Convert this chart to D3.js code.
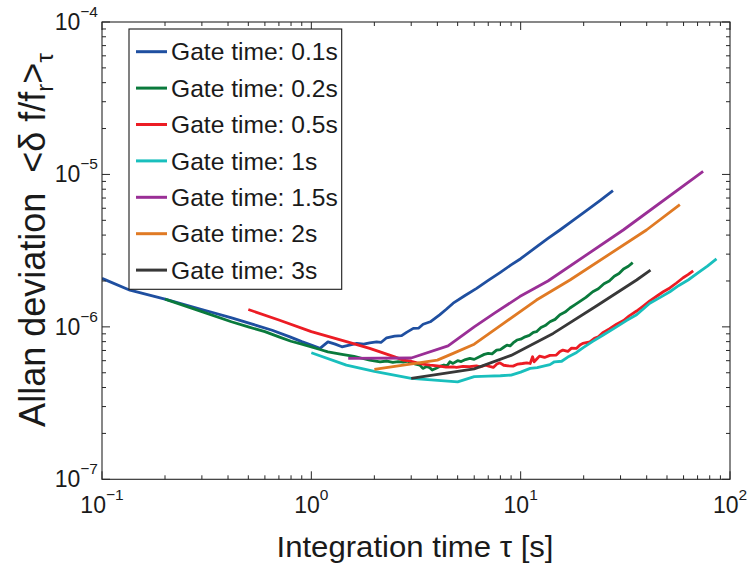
<!DOCTYPE html>
<html><head><meta charset="utf-8">
<script src="https://cdn.jsdelivr.net/npm/d3@7"></script>
<style>body{margin:0;background:#fff}svg{display:block}text{font-family:"Liberation Sans",Arial,Helvetica,sans-serif;fill:#1a1a1a}</style>
</head><body><svg id="c" width="751" height="570"></svg>
<script>
// ---- data (tau [s], Allan deviation) ----
const seriesNames = ["Gate time: 0.1s","Gate time: 0.2s","Gate time: 0.5s","Gate time: 1s","Gate time: 1.5s","Gate time: 2s","Gate time: 3s"];
const seriesColors = ["#1f4fa0","#0a7a3c","#ec1c24","#19bfbd","#9a2f96","#e07a24","#383838"];
const gate01 = [[0.1,2.08e-6],[0.136,1.74e-6],[0.2,1.52e-6],[0.3,1.3e-6],[0.42,1.14e-6],[0.55,1.02e-6],[0.65,9.5e-7],[0.79,8.6e-7],[0.9,8.0e-7],[1.0,7.6e-7],[1.1,7.23e-7],[1.2,7.98e-7],[1.3,7.7e-7],[1.4,7.4e-7],[1.52,7.6e-7],[1.65,7.79e-7],[1.78,7.7e-7],[1.9,7.86e-7],[2.05,7.98e-7],[2.15,7.9e-7],[2.29,8.48e-7],[2.5,8.7e-7],[2.7,8.75e-7],[2.85,9.2e-7],[3.07,9.77e-7],[3.25,9.8e-7],[3.42,1.04e-6],[3.7,1.08e-6],[4.1,1.2e-6],[4.4,1.3e-6],[4.76,1.43e-6],[5.4,1.6e-6],[6.16,1.79e-6],[7,2.02e-6],[8,2.28e-6],[9,2.55e-6],[10,2.8e-6],[11.9,3.35e-6],[13.5,3.8e-6],[15.4,4.32e-6],[18,5.05e-6],[21,5.9e-6],[24,6.75e-6],[27.6,7.82e-6]];
const gate02 = [[0.2,1.52e-6],[0.3,1.26e-6],[0.415,1.08e-6],[0.5,1.0e-6],[0.6,9.3e-7],[0.7,8.6e-7],[0.8,8.05e-7],[0.9,7.7e-7],[1.0,7.4e-7],[1.1,7.1e-7],[1.2,6.85e-7],[1.4,6.6e-7],[1.6,6.4e-7],[1.76,6.2e-7],[1.9,6.05e-7],[2.13,5.9e-7],[2.3,5.97e-7],[2.45,5.85e-7],[2.6,5.92e-7],[2.75,5.88e-7],[2.9,5.95e-7],[3.0,5.8e-7],[3.15,5.7e-7],[3.3,5.61e-7],[3.41,5.34e-7],[3.55,5.5e-7],[3.68,5.4e-7],[3.78,5.21e-7],[3.95,5.35e-7],[4.1,5.5e-7],[4.3,5.62e-7],[4.45,5.55e-7],[4.59,5.9e-7],[4.75,5.76e-7],[5.0,6.0e-7],[5.2,5.92e-7],[5.45,6.1e-7],[5.72,6.21e-7],[6.0,6.12e-7],[6.39,6.4e-7],[6.7,6.6e-7],[7.0,6.7e-7],[7.3,6.65e-7],[7.67,7.04e-7],[8.0,7.1e-7],[8.3,7.35e-7],[8.6,7.6e-7],[8.9,7.5e-7],[9.2,7.85e-7],[9.6,8.2e-7],[10.0,8.3e-7],[10.5,8.6e-7],[11.0,8.8e-7],[11.5,9.2e-7],[11.9,9.3e-7],[12.5,9.9e-7],[13.1,1.02e-6],[13.8,1.08e-6],[14.6,1.12e-6],[15.4,1.2e-6],[16.3,1.25e-6],[17.2,1.33e-6],[18.2,1.4e-6],[19.2,1.47e-6],[20.5,1.56e-6],[22.1,1.7e-6],[23.5,1.78e-6],[25,1.92e-6],[26.5,2.0e-6],[28,2.15e-6],[29.5,2.24e-6],[31,2.4e-6],[32.7,2.5e-6],[34.3,2.64e-6]];
const gate05 = [[0.5,1.3e-6],[0.7,1.11e-6],[1.0,9.3e-7],[1.5,7.95e-7],[1.9,7.23e-7],[2.13,6.86e-7],[2.5,6.35e-7],[2.75,6.05e-7],[3.0,5.95e-7],[3.2,5.8e-7],[3.41,5.7e-7],[3.69,5.61e-7],[4.0,5.55e-7],[4.4,5.45e-7],[4.75,5.47e-7],[4.94,5.42e-7],[5.3,5.5e-7],[5.7,5.48e-7],[6.15,5.55e-7],[6.4,5.47e-7],[6.8,5.6e-7],[7.1,5.5e-7],[7.4,5.42e-7],[7.7,5.7e-7],[7.96,5.81e-7],[8.3,5.6e-7],[8.7,5.55e-7],[9.2,5.53e-7],[9.7,5.7e-7],[10.2,5.75e-7],[10.7,5.81e-7],[11.1,5.75e-7],[11.4,6.37e-7],[11.6,5.9e-7],[12.0,6.2e-7],[12.3,6.43e-7],[13.0,6.3e-7],[13.8,6.5e-7],[14.8,6.53e-7],[15.4,6.9e-7],[15.9,7.04e-7],[16.8,6.9e-7],[17.5,7.25e-7],[18.5,7.23e-7],[19.2,7.6e-7],[19.8,7.79e-7],[21.4,7.98e-7],[22.5,8.4e-7],[23.5,8.6e-7],[24.8,9.2e-7],[26.5,9.7e-7],[28.7,1.04e-6],[31,1.1e-6],[33,1.18e-6],[35.8,1.27e-6],[38.5,1.37e-6],[41.4,1.48e-6],[45,1.6e-6],[48,1.7e-6],[51.6,1.8e-6],[55.5,1.94e-6],[59.7,2.1e-6],[63,2.2e-6],[66.7,2.33e-6]];
const gate1 = [[1.0,6.76e-7],[1.47,5.61e-7],[2.0,5.1e-7],[3.0,4.6e-7],[5.0,4.36e-7],[6.0,4.72e-7],[7.0,4.75e-7],[8.0,4.78e-7],[9.0,4.83e-7],[10.0,5.05e-7],[11.1,5.34e-7],[12.0,5.4e-7],[13.0,5.55e-7],[13.8,5.65e-7],[14.5,5.9e-7],[15.7,5.95e-7],[17,6.4e-7],[18.5,6.8e-7],[19.9,7.31e-7],[22,8.0e-7],[24.8,8.84e-7],[28.7,1.0e-6],[32,1.1e-6],[35.8,1.2e-6],[41.4,1.43e-6],[46,1.55e-6],[51.6,1.7e-6],[57,1.87e-6],[63.1,2.03e-6],[70,2.25e-6],[78,2.5e-6],[86.2,2.79e-6]];
const gate15 = [[1.5,6.21e-7],[3.0,6.25e-7],[4.5,7.5e-7],[6.0,1.0e-6],[7.5,1.23e-6],[9.9,1.58e-6],[13.5,2.0e-6],[30.9,4.32e-6],[74.4,1.048e-5]];
const gate2 = [[2,5.26e-7],[4,6.05e-7],[4.76,6.7e-7],[6,7.7e-7],[8.25,1.05e-6],[11.9,1.5e-6],[17.2,2.03e-6],[39.9,4.32e-6],[57.6,6.33e-6]];
const gate3 = [[3.0,4.59e-7],[6,5.3e-7],[9,6.5e-7],[14.3,9.06e-7],[23,1.37e-6],[35.8,2.03e-6],[41.7,2.36e-6]];
const allSeries = [gate01,gate02,gate05,gate1,gate15,gate2,gate3];
const xDecades = [-1,0,1,2];
const yDecades = [-7,-6,-5,-4];

// ---- layout ----
const L=102, R=730, T=22, B=479.3;
const svg = d3.select("#c");
const x = d3.scaleLog().domain([0.1,100]).range([L,R]);
const y = d3.scaleLog().domain([1e-7,1e-4]).range([B,T]);

svg.append("defs").append("clipPath").attr("id","clip")
  .append("rect").attr("x",L).attr("y",T).attr("width",R-L).attr("height",B-T);

// lines
const line = d3.line().x(d=>x(d[0])).y(d=>y(d[1]));
const g = svg.append("g").attr("clip-path","url(#clip)");
allSeries.forEach((s,i)=>{
  g.append("path").datum(s).attr("d",line).attr("fill","none")
   .attr("stroke",seriesColors[i]).attr("stroke-width",2.8)
   .attr("stroke-linejoin","round").attr("stroke-linecap","butt");
});

// axes with inward ticks on all sides
const axCol="#262626";
const xTicks=[], yTicks=[];
for(let e=-1;e<2;e++) for(let m=1;m<=9;m++) xTicks.push(m*Math.pow(10,e));
xTicks.push(100);
for(let e=-7;e<-4;e++) for(let m=1;m<=9;m++) yTicks.push(m*Math.pow(10,e));
yTicks.push(1e-4);
const isMajor = v => Math.abs(Math.log10(v)-Math.round(Math.log10(v)))<1e-9;
const ax = svg.append("g");
ax.append("rect").attr("x",L).attr("y",T).attr("width",R-L).attr("height",B-T)
  .attr("fill","none").attr("stroke",axCol).attr("stroke-width",1.1);
xTicks.forEach(v=>{
  const len = isMajor(v)?8:4, px=x(v);
  ax.append("line").attr("x1",px).attr("x2",px).attr("y1",B).attr("y2",B-len).attr("stroke",axCol);
  ax.append("line").attr("x1",px).attr("x2",px).attr("y1",T).attr("y2",T+len).attr("stroke",axCol);
});
yTicks.forEach(v=>{
  const len = isMajor(v)?8:4, py=y(v);
  ax.append("line").attr("y1",py).attr("y2",py).attr("x1",L).attr("x2",L+len).attr("stroke",axCol);
  ax.append("line").attr("y1",py).attr("y2",py).attr("x1",R).attr("x2",R-len).attr("stroke",axCol);
});

// tick labels
xDecades.forEach(e=>{
  const t = svg.append("text").attr("x",x(Math.pow(10,e))).attr("y",513).attr("text-anchor","middle");
  t.append("tspan").attr("font-size",23).text("10");
  t.append("tspan").attr("font-size",15.5).attr("dy",-13).text(String(e).replace("-","\u2212"));
});
yDecades.forEach(e=>{
  const t = svg.append("text").attr("x",98).attr("y",y(Math.pow(10,e))+8).attr("text-anchor","end");
  t.append("tspan").attr("font-size",23).text("10");
  t.append("tspan").attr("font-size",15.5).attr("dy",-13).text(String(e).replace("-","\u2212"));
});

// axis labels
svg.append("text").attr("x",415).attr("y",557).attr("text-anchor","middle")
  .attr("font-size",29).attr("textLength",277).attr("lengthAdjust","spacingAndGlyphs")
  .text("Integration time \u03c4 [s]");
const yl = svg.append("text").attr("transform","translate(45,240) rotate(-90)")
  .attr("text-anchor","middle").attr("font-size",36);
yl.append("tspan").text("Allan deviation\u00a0\u00a0<\u03b4 f/f");
yl.append("tspan").attr("font-size",24).attr("dy",8).text("r");
yl.append("tspan").attr("dy",-8).text(">");
yl.append("tspan").attr("font-size",24).attr("dy",8).text("\u03c4");

// legend
const lg = svg.append("g");
lg.append("rect").attr("x",129).attr("y",29).attr("width",212.7).attr("height",260.3)
  .attr("fill","#fff").attr("stroke","#1a1a1a").attr("stroke-width",1.1);
seriesNames.forEach((n,i)=>{
  const cy = 51.7 + i*36.4;
  lg.append("line").attr("x1",136).attr("x2",167).attr("y1",cy).attr("y2",cy)
    .attr("stroke",seriesColors[i]).attr("stroke-width",3);
  lg.append("text").attr("x",171).attr("y",cy+8.6).attr("font-size",24.6).text(n);
});
</script></body></html>
